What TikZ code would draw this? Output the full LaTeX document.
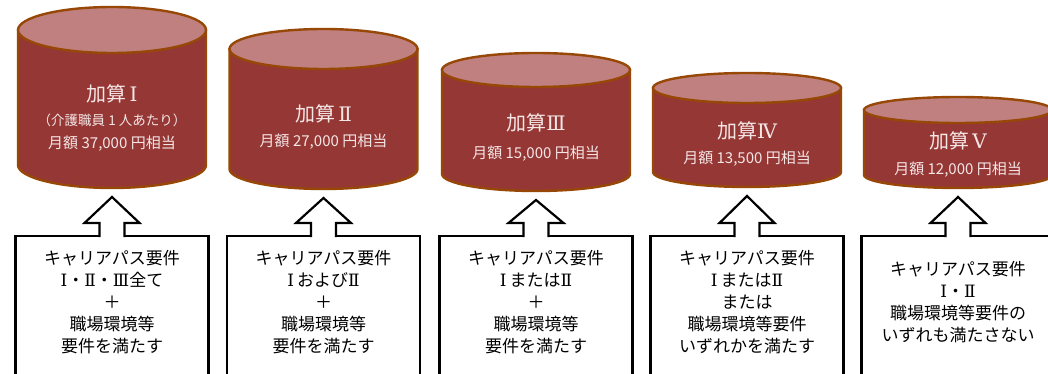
\documentclass[tikz,border=0pt]{standalone}
\usepackage{fontspec}
\setmainfont{Noto Sans CJK JP}
\newfontfamily\romanfont{DejaVu Serif}
\newcommand\rnum[1]{{\romanfont #1}}
\usetikzlibrary{positioning}
\definecolor{kasanbody}{HTML}{953735}
\definecolor{kasantop}{HTML}{C0807F}
\definecolor{kasanline}{HTML}{984806}
\definecolor{kasanfont}{HTML}{F5E6E6}
\tikzset{
	cylbody/.style={draw=kasanline, line width=2.4pt, fill=kasanbody},
	cyltop/.style={draw=kasanline, line width=2.4pt, fill=kasantop},
	kasantext/.style={text=kasanfont, align=center, font=\fontsize{15}{25}\selectfont},
	reqbox/.style={draw, line width=2.2pt, minimum width=193pt, minimum height=150pt, outer sep=0pt, fill=white},
	reqtext/.style={align=center, font=\fontsize{17}{22}\selectfont},
	uparrow/.style={draw, line width=2.2pt, fill=white, line join=miter},
}
\begin{document}
\begin{tikzpicture}[x=1pt, y=1pt]
	\useasboundingbox (0,0) rectangle (1048,374);
	
	% Cylinders (kasan levels)
	\foreach \i/\cx/\yt/\yb/\ry in {1/112/344/209/23, 2/323.5/325/205/20, 3/536/304/200/17, 4/747/286/202/15, 5/958/264/199/13} {
		\draw [cylbody] (\cx-94,\yt) -- (\cx-94,\yb) arc[start angle=180, end angle=360, x radius=94pt, y radius=\ry pt] -- (\cx+94,\yt) -- cycle;
		\draw [cyltop] (\cx,\yt) ellipse [x radius=94pt, y radius=\ry pt];
		\coordinate (base\i) at (\cx,\yb-\ry);
	}
	
	% Cylinder labels
	\node [kasantext] (kasan1) at (112,256) {{\fontsize{20}{25}\selectfont 加算\,\rnum{Ⅰ}}\\[-1pt]{\fontsize{13.5}{25}\selectfont （介護職員 1 人あたり）}\\[-2pt]月額 37,000 円相当};
	\node [kasantext] (kasan2) at (323.5,247.5) {{\fontsize{20}{25}\selectfont 加算\,\rnum{Ⅱ}}\\月額 27,000 円相当};
	\node [kasantext] (kasan3) at (536,237) {{\fontsize{20}{25}\selectfont 加算\rnum{Ⅲ}}\\[3pt]月額 15,000 円相当};
	\node [kasantext] (kasan4) at (747,230.5) {{\fontsize{20}{25}\selectfont 加算\rnum{Ⅳ}}\\月額 13,500 円相当};
	\node [kasantext] (kasan5) at (958,220) {{\fontsize{20}{25}\selectfont 加算\,\rnum{Ⅴ}}\\[1pt]月額 12,000 円相当};
	
	% Requirement boxes with block arrows
	\foreach \i/\cx/\txt in {1/112/{キャリアパス要件\\\rnum{Ⅰ}・\rnum{Ⅱ}・\rnum{Ⅲ}全て\\＋\\職場環境等\\要件を満たす},
		2/323.5/{キャリアパス要件\\\rnum{Ⅰ}\,および\rnum{Ⅱ}\\＋\\職場環境等\\要件を満たす},
		3/536/{キャリアパス要件\\\rnum{Ⅰ}\,または\rnum{Ⅱ}\\＋\\職場環境等\\要件を満たす},
		4/747/{キャリアパス要件\\\rnum{Ⅰ}\,または\rnum{Ⅱ}\\または\\職場環境等要件\\いずれかを満たす},
		5/958/{キャリアパス要件\\\rnum{Ⅰ}・\rnum{Ⅱ}\\職場環境等要件の\\いずれも満たさない}} {
		\node [reqbox] (box\i) at (\cx,63) {};
		\node [reqtext] (req\i) at ([yshift=-66pt]box\i.north) {\txt};
		\draw [uparrow] ([xshift=-12.5pt,yshift=-1.1pt]box\i.north) -- ++(0,14.1) -- ++(-15,0)
			-- ([yshift=-9pt]base\i) -- ([xshift=27.5pt,yshift=13pt]box\i.north) -- ++(-15,0)
			-- ([xshift=12.5pt,yshift=-1.1pt]box\i.north);
	}
\end{tikzpicture}
\end{document}
